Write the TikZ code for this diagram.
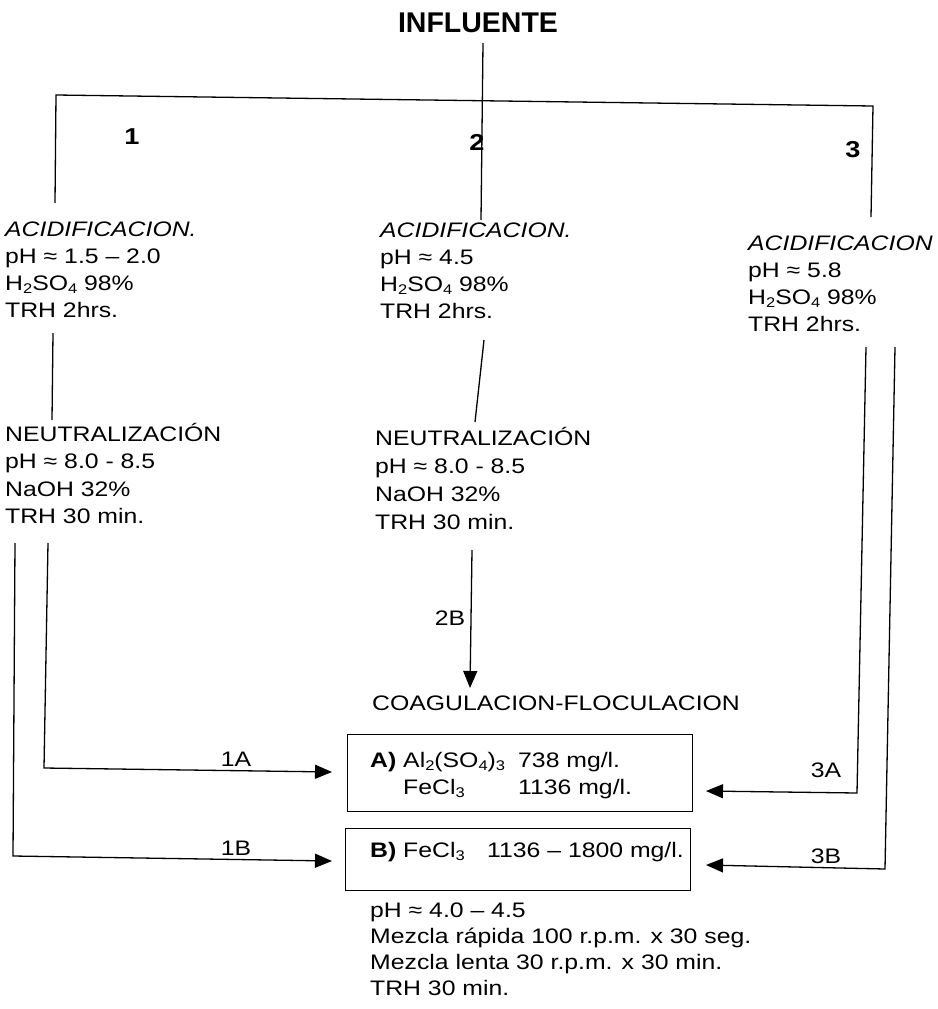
\documentclass[tikz,border=0pt]{standalone}
\usepackage{fontspec}
\setmainfont[FakeStretch=1.18]{Liberation Sans}
\newfontfamily\plainsans{Liberation Sans}
\usetikzlibrary{arrows.meta}
\newcommand\sub[1]{\raisebox{-0.35ex}{\fontsize{14}{14}\selectfont#1}}
\newcommand\lines[2][27pt]{\vtop{\baselineskip=#1\relax\lineskiplimit=-30pt\halign{##\hfil\cr#2\crcr}}}
\begin{document}
\begin{tikzpicture}[x=1pt,y=-1pt,
  every node/.style={inner sep=0pt},
  txt/.style={anchor=base west,font=\fontsize{21}{27}\selectfont},
  lbl/.style={anchor=base,font=\fontsize{21}{27}\selectfont},
  num/.style={font=\fontsize{23}{27}\selectfont\bfseries},
  ln/.style={line width=1.3pt},
  arr/.style={line width=1.3pt,-{Triangle[length=17pt,width=14pt]}},
  coagbox/.style={draw,line width=1.3pt,anchor=north west}]
\useasboundingbox (0,0) rectangle (937,1009);

% title and branch numbers
\node[font=\plainsans\bfseries\fontsize{28.5}{30}\selectfont] (infl) at (478,23) {INFLUENTE};
\node[num] (n1) at (132,137) {1};
\node[num] (n2) at (477,142) {2};
\node[num] (n3) at (853,150) {3};

% process blocks
\node[txt] (acid1) at (5,236) {\lines{\textit{ACIDIFICACION.}\cr pH ≈ 1.5 – 2.0\cr H\sub{2}SO\sub{4} 98\%\cr TRH 2hrs.}};
\node[txt] (acid2) at (380,237) {\lines{\textit{ACIDIFICACION.}\cr pH ≈ 4.5\cr H\sub{2}SO\sub{4} 98\%\cr TRH 2hrs.}};
\node[txt] (acid3) at (748,250) {\lines{\textit{ACIDIFICACION}\cr pH ≈ 5.8\cr H\sub{2}SO\sub{4} 98\%\cr TRH 2hrs.}};
\node[txt] (neut1) at (5,441) {\lines[27.5pt]{NEUTRALIZACIÓN\cr pH ≈ 8.0 - 8.5\cr NaOH 32\%\cr TRH 30 min.}};
\node[txt] (neut2) at (375,445) {\lines[28pt]{NEUTRALIZACIÓN\cr pH ≈ 8.0 - 8.5\cr NaOH 32\%\cr TRH 30 min.}};
\node[txt] (coag) at (372,710) {COAGULACION-FLOCULACION};

% coagulation boxes
\node[coagbox, minimum width=345pt, minimum height=77pt] (boxA) at (347,734) {};
\node[coagbox, minimum width=345pt, minimum height=62pt] (boxB) at (345,828) {};
\node[txt] (boxAa) at (370,767) {\lines{\textbf{A)} Al\sub{2}(SO\sub{4})\sub{3}\cr\hspace*{33pt}FeCl\sub{3}}};
\node[txt] (boxAb) at (518,767) {\lines{738 mg/l.\cr 1136 mg/l.}};
\node[txt] (boxBa) at (370,857) {\textbf{B)} FeCl\sub{3}};
\node[txt] (boxBb) at (487,857) {1136 – 1800 mg/l.};
\node[txt] (cond) at (370,917) {\lines[26pt]{pH ≈ 4.0 – 4.5\cr Mezcla rápida 100 r.p.m. x 30 seg.\cr Mezcla lenta 30 r.p.m. x 30 min.\cr TRH 30 min.}};

% connector labels
\node[lbl] (l1A) at (236,766) {1A};
\node[lbl] (l1B) at (236,855) {1B};
\node[lbl] (l2B) at (450,625) {2B};
\node[lbl] (l3A) at (826,777) {3A};
\node[lbl] (l3B) at (826,863) {3B};

% connector coordinates
\coordinate (tl) at (56,95);
\coordinate (tr) at (873,106);
\coordinate (b1top) at (55,203);
\coordinate (b3top) at (871,217);
\coordinate (it) at (483,43);
\coordinate (ib) at (481,220);
\coordinate (a1b) at (53,333);
\coordinate (n1t) at (52,420);
\coordinate (a2b) at (484,340);
\coordinate (n2t) at (475,422);
\coordinate (n2b) at (472,550);
\coordinate (c2B) at (470,688);
\coordinate (s1A) at (48,543);
\coordinate (k1A) at (44,768);
\coordinate (t1A) at (332,772);
\coordinate (s1B) at (15,543);
\coordinate (k1B) at (13,856);
\coordinate (t1B) at (332,861);
\coordinate (s3A) at (866,347);
\coordinate (k3A) at (857,793);
\coordinate (t3A) at (706,791);
\coordinate (s3B) at (895,347);
\coordinate (k3B) at (885,869);
\coordinate (t3B) at (706,865);

% connectors
\draw[ln] (b1top) -- (tl) -- (tr) -- (b3top);
\draw[ln] (it) -- (ib);
\draw[ln] (a1b) -- (n1t);
\draw[ln] (a2b) -- (n2t);
\draw[arr] (n2b) -- (c2B);
\draw[arr] (s1A) -- (k1A) -- (t1A);
\draw[arr] (s1B) -- (k1B) -- (t1B);
\draw[arr] (s3A) -- (k3A) -- (t3A);
\draw[arr] (s3B) -- (k3B) -- (t3B);
\end{tikzpicture}
\end{document}
